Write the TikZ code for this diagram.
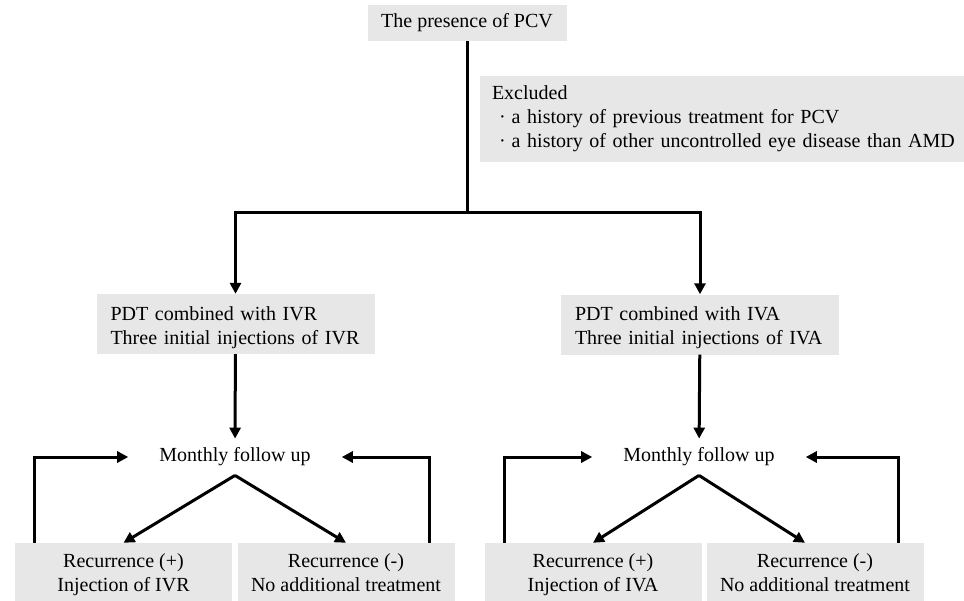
\documentclass[tikz,border=0pt]{standalone}
\usepackage{fontspec}
\setmainfont{Liberation Serif}
\usepackage{tikz}
\usetikzlibrary{positioning,arrows.meta,calc}
\definecolor{pcvGray}{RGB}{231,231,231}
\newcommand{\topline}{\rule{0pt}{24pt}}
\tikzset{
    base/.style={font=\fontsize{20}{24}\selectfont},
    grayBox/.style={base, rectangle, fill=pcvGray, inner sep=0pt},
    leftBox/.style={grayBox, align=left, text width=250pt, inner xsep=14pt, minimum height=60pt},
    recBox/.style={grayBox, align=center, minimum width=217pt, minimum height=63pt},
    followup/.style={base, inner xsep=3pt, inner ysep=9pt},
    link/.style={line width=3pt, color=black},
    flow/.style={link, -{Triangle[length=11pt,width=11pt]}}
}

\begin{document}
\begin{tikzpicture}[x=1pt, y=-1pt]
  \useasboundingbox (0,0) rectangle (964,600);
  \clip (0,0) rectangle (964,600);

  % Nodes
  \node[grayBox, minimum width=199pt, minimum height=36pt] (pcv) at (467,23) {The presence of PCV};
  \node[grayBox, align=left, text width=471pt, inner xsep=12pt, minimum height=86pt] (excl) at (727.5,119)
    {Excluded\\\hspace*{7pt}·\hspace{6pt}a history of previous treatment for PCV\\\hspace*{7pt}·\hspace{6pt}a history of other uncontrolled eye disease than AMD};
  \coordinate (split) at (467,212);

  \node[leftBox] (pdtR) at (235.5,324) {\topline PDT combined with IVR\\\strut Three initial injections of IVR\strut};
  \node[leftBox] (pdtA) at (700,324.5) {\topline PDT combined with IVA\\\strut Three initial injections of IVA\strut};

  \node[followup] (mfR) at (235,457) {Monthly follow up};
  \node[followup] (mfA) at (699,457) {Monthly follow up};

  \node[recBox] (recRp) at (123.5,574.5) {\strut Recurrence (+)\\\strut Injection of IVR};
  \node[recBox] (recRn) at (346,574.5) {\strut Recurrence (-)\\\strut No additional treatment};
  \node[recBox] (recAp) at (593,574.5) {\strut Recurrence (+)\\\strut Injection of IVA};
  \node[recBox] (recAn) at (815,574.5) {\strut Recurrence (-)\\\strut No additional treatment};

  % Edges
  \draw[link] (pcv) -- (split);
  \draw[flow] (split) -| (pdtR);
  \draw[flow] (split) -| (pdtA);
  \draw[flow] (pdtR) -- (mfR);
  \draw[flow] (pdtA) -- (mfA);

  \draw[flow] (mfR.south) -- (recRp.north);
  \draw[flow] (mfR.south) -- (recRn.north);
  \draw[flow] (mfA.south) -- (recAp.north);
  \draw[flow] (mfA.south) -- ([xshift=-10pt]recAn.north);

  \draw[flow] ([xshift=20pt]recRp.north west) |- ([xshift=-28pt]mfR.west);
  \draw[flow] ([xshift=-25pt]recRn.north east) |- ([xshift=28pt]mfR.east);
  \draw[flow] ([xshift=20pt]recAp.north west) |- ([xshift=-28pt]mfA.west);
  \draw[flow] ([xshift=-25pt]recAn.north east) |- ([xshift=28pt]mfA.east);

\end{tikzpicture}
\end{document}
